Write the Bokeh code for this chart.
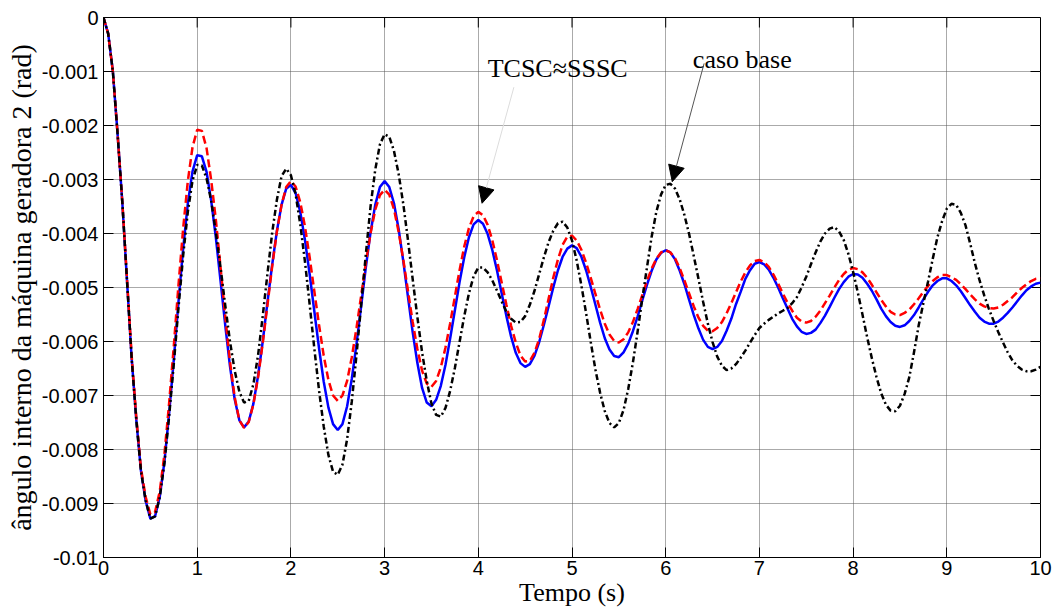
from bokeh.plotting import figure
from bokeh.models import Range1d, FixedTicker, PrintfTickFormatter, Label, Arrow, NormalHead
from bokeh.embed import file_html
from bokeh.resources import INLINE

# ---------------- data ----------------
# common time samples (s), every 0.05 s from 0 to 10
time_s = [round(0.05 * i, 2) for i in range(201)]

# TCSC (blue, solid) - rad
tcsc = [
    0.0, -0.00030, -0.00100, -0.00215, -0.00340, -0.00485, -0.00630, -0.00745, -0.00840, -0.00895,
    -0.00928, -0.00924, -0.00888, -0.00823, -0.00734, -0.00634, -0.00527, -0.00428, -0.00344, -0.00285,
    -0.00255, -0.00257, -0.00286, -0.00340, -0.00409, -0.00489, -0.00571, -0.00646, -0.00707, -0.00746,
    -0.00759, -0.00748, -0.00715, -0.00663, -0.00599, -0.00527, -0.00458, -0.00396, -0.00347, -0.00317,
    -0.00310, -0.00325, -0.00360, -0.00412, -0.00475, -0.00544, -0.00612, -0.00674, -0.00722, -0.00753,
    -0.00764, -0.00753, -0.00720, -0.00669, -0.00605, -0.00534, -0.00462, -0.00398, -0.00347, -0.00314,
    -0.00303, -0.00314, -0.00344, -0.00392, -0.00452, -0.00518, -0.00583, -0.00640, -0.00686, -0.00713,
    -0.00720, -0.00708, -0.00682, -0.00643, -0.00594, -0.00542, -0.00490, -0.00444, -0.00407, -0.00383,
    -0.00375, -0.00382, -0.00401, -0.00431, -0.00469, -0.00511, -0.00553, -0.00591, -0.00621, -0.00640,
    -0.00647, -0.00642, -0.00626, -0.00601, -0.00569, -0.00535, -0.00500, -0.00468, -0.00443, -0.00428,
    -0.00422, -0.00427, -0.00443, -0.00468, -0.00499, -0.00532, -0.00565, -0.00594, -0.00615, -0.00627,
    -0.00629, -0.00620, -0.00604, -0.00581, -0.00554, -0.00524, -0.00495, -0.00469, -0.00448, -0.00436,
    -0.00431, -0.00435, -0.00448, -0.00469, -0.00494, -0.00523, -0.00551, -0.00576, -0.00597, -0.00610,
    -0.00614, -0.00610, -0.00599, -0.00580, -0.00558, -0.00531, -0.00508, -0.00484, -0.00468, -0.00456,
    -0.00453, -0.00457, -0.00467, -0.00482, -0.00500, -0.00520, -0.00539, -0.00558, -0.00572, -0.00582,
    -0.00586, -0.00584, -0.00578, -0.00566, -0.00552, -0.00536, -0.00519, -0.00503, -0.00490, -0.00480,
    -0.00475, -0.00476, -0.00482, -0.00493, -0.00506, -0.00522, -0.00539, -0.00553, -0.00564, -0.00571,
    -0.00573, -0.00570, -0.00562, -0.00551, -0.00537, -0.00522, -0.00508, -0.00496, -0.00488, -0.00483,
    -0.00483, -0.00488, -0.00496, -0.00507, -0.00520, -0.00533, -0.00545, -0.00556, -0.00563, -0.00567,
    -0.00567, -0.00563, -0.00556, -0.00547, -0.00537, -0.00526, -0.00515, -0.00505, -0.00498, -0.00493,
    -0.00491,
]

# SSSC (red, dashed) - rad
sssc = [
    0.0, -0.00030, -0.00100, -0.00215, -0.00340, -0.00482, -0.00625, -0.00740, -0.00835, -0.00888,
    -0.00920, -0.00916, -0.00878, -0.00809, -0.00715, -0.00609, -0.00496, -0.00391, -0.00303, -0.00240,
    -0.00208, -0.00210, -0.00242, -0.00302, -0.00376, -0.00464, -0.00555, -0.00637, -0.00703, -0.00746,
    -0.00760, -0.00749, -0.00716, -0.00666, -0.00602, -0.00532, -0.00461, -0.00397, -0.00347, -0.00314,
    -0.00303, -0.00313, -0.00342, -0.00387, -0.00444, -0.00507, -0.00569, -0.00626, -0.00671, -0.00700,
    -0.00710, -0.00700, -0.00673, -0.00629, -0.00575, -0.00515, -0.00454, -0.00400, -0.00356, -0.00329,
    -0.00319, -0.00328, -0.00355, -0.00397, -0.00449, -0.00507, -0.00564, -0.00614, -0.00654, -0.00678,
    -0.00684, -0.00673, -0.00648, -0.00611, -0.00566, -0.00517, -0.00468, -0.00424, -0.00390, -0.00368,
    -0.00360, -0.00366, -0.00384, -0.00413, -0.00450, -0.00491, -0.00532, -0.00571, -0.00602, -0.00626,
    -0.00637, -0.00636, -0.00621, -0.00595, -0.00560, -0.00521, -0.00482, -0.00448, -0.00421, -0.00406,
    -0.00404, -0.00413, -0.00430, -0.00454, -0.00482, -0.00512, -0.00541, -0.00567, -0.00587, -0.00599,
    -0.00602, -0.00596, -0.00583, -0.00564, -0.00540, -0.00514, -0.00488, -0.00465, -0.00447, -0.00435,
    -0.00431, -0.00435, -0.00446, -0.00464, -0.00487, -0.00511, -0.00535, -0.00556, -0.00571, -0.00580,
    -0.00581, -0.00575, -0.00564, -0.00548, -0.00529, -0.00509, -0.00489, -0.00472, -0.00459, -0.00451,
    -0.00449, -0.00453, -0.00462, -0.00476, -0.00493, -0.00511, -0.00528, -0.00543, -0.00556, -0.00563,
    -0.00565, -0.00562, -0.00554, -0.00543, -0.00529, -0.00515, -0.00500, -0.00486, -0.00475, -0.00467,
    -0.00464, -0.00466, -0.00472, -0.00482, -0.00495, -0.00509, -0.00523, -0.00535, -0.00545, -0.00550,
    -0.00551, -0.00547, -0.00541, -0.00531, -0.00520, -0.00508, -0.00497, -0.00488, -0.00481, -0.00477,
    -0.00477, -0.00481, -0.00486, -0.00494, -0.00503, -0.00513, -0.00522, -0.00530, -0.00535, -0.00538,
    -0.00539, -0.00537, -0.00532, -0.00525, -0.00518, -0.00509, -0.00501, -0.00494, -0.00488, -0.00484,
    -0.00483,
]

# caso base (black, dash-dot) - rad
caso_base = [
    0.0, -0.00030, -0.00100, -0.00215, -0.00340, -0.00485, -0.00630, -0.00745, -0.00840, -0.00895,
    -0.00928, -0.00924, -0.00889, -0.00826, -0.00739, -0.00642, -0.00538, -0.00441, -0.00360, -0.00302,
    -0.00273, -0.00274, -0.00298, -0.00340, -0.00399, -0.00464, -0.00534, -0.00600, -0.00654, -0.00693,
    -0.00713, -0.00710, -0.00679, -0.00625, -0.00552, -0.00474, -0.00399, -0.00338, -0.00294, -0.00280,
    -0.00292, -0.00327, -0.00383, -0.00452, -0.00531, -0.00613, -0.00690, -0.00757, -0.00810, -0.00841,
    -0.00847, -0.00828, -0.00781, -0.00711, -0.00625, -0.00532, -0.00438, -0.00350, -0.00282, -0.00235,
    -0.00216, -0.00221, -0.00247, -0.00290, -0.00346, -0.00413, -0.00485, -0.00555, -0.00620, -0.00673,
    -0.00715, -0.00736, -0.00739, -0.00723, -0.00691, -0.00649, -0.00601, -0.00553, -0.00511, -0.00479,
    -0.00463, -0.00463, -0.00472, -0.00487, -0.00506, -0.00526, -0.00545, -0.00558, -0.00565, -0.00564,
    -0.00553, -0.00532, -0.00506, -0.00475, -0.00444, -0.00416, -0.00395, -0.00381, -0.00378, -0.00389,
    -0.00413, -0.00450, -0.00496, -0.00547, -0.00601, -0.00652, -0.00695, -0.00729, -0.00751, -0.00759,
    -0.00751, -0.00727, -0.00688, -0.00639, -0.00582, -0.00521, -0.00463, -0.00406, -0.00360, -0.00328,
    -0.00310, -0.00308, -0.00317, -0.00337, -0.00366, -0.00401, -0.00442, -0.00484, -0.00527, -0.00567,
    -0.00601, -0.00628, -0.00645, -0.00653, -0.00650, -0.00642, -0.00630, -0.00617, -0.00602, -0.00588,
    -0.00575, -0.00567, -0.00560, -0.00554, -0.00548, -0.00543, -0.00538, -0.00529, -0.00518, -0.00500,
    -0.00480, -0.00457, -0.00435, -0.00415, -0.00400, -0.00391, -0.00388, -0.00396, -0.00412, -0.00438,
    -0.00471, -0.00509, -0.00550, -0.00592, -0.00631, -0.00666, -0.00696, -0.00717, -0.00728, -0.00729,
    -0.00719, -0.00697, -0.00666, -0.00620, -0.00570, -0.00529, -0.00489, -0.00447, -0.00407, -0.00377,
    -0.00354, -0.00345, -0.00347, -0.00362, -0.00385, -0.00419, -0.00455, -0.00487, -0.00515, -0.00540,
    -0.00562, -0.00583, -0.00602, -0.00620, -0.00635, -0.00645, -0.00652, -0.00655, -0.00655, -0.00652,
    -0.00647,
]

x_ticks = [0, 1, 2, 3, 4, 5, 6, 7, 8, 9, 10]
y_ticks = [0, -0.001, -0.002, -0.003, -0.004, -0.005, -0.006, -0.007, -0.008, -0.009, -0.01]

x_label = "Tempo (s)"
y_label = "ângulo interno da máquina geradora 2 (rad)"
note_tcsc = "TCSC≈SSSC"
note_base = "caso base"

# ---------------- figure ----------------
SERIF = "Liberation Serif"
SANS = "Liberation Sans"

x_range = Range1d(0, 10)
y_range = Range1d(-0.01, 0)
p = figure(width=1056, height=610, output_backend="svg", toolbar_location=None,
           x_range=x_range, y_range=y_range,
           min_border_left=103, min_border_right=16, min_border_top=17, min_border_bottom=53)
p.background_fill_color = "white"
p.border_fill_color = "white"
p.outline_line_color = "black"
p.outline_line_width = 1

xticker = FixedTicker(ticks=x_ticks, minor_ticks=[])
yticker = FixedTicker(ticks=y_ticks, minor_ticks=[])

xa = p.xaxis[0]
xa.ticker = xticker
xa.axis_label = x_label
xa.axis_label_text_font = SERIF
xa.axis_label_text_font_style = "normal"
xa.axis_label_text_font_size = "26px"
xa.axis_label_text_color = "black"
xa.axis_label_standoff = 0
xa.major_label_text_font = SANS
xa.major_label_text_font_size = "20px"
xa.major_label_text_color = "black"
xa.major_label_standoff = 3
xa.major_tick_in = 10
xa.major_tick_out = 0
xa.major_tick_line_color = "black"
xa.minor_tick_line_color = None
xa.axis_line_color = "black"

ya = p.yaxis[0]
ya.ticker = yticker
ya.formatter = PrintfTickFormatter(format="%g")
ya.axis_label = y_label
ya.axis_label_text_font = SERIF
ya.axis_label_text_font_style = "normal"
ya.axis_label_text_font_size = "28px"
ya.axis_label_text_color = "black"
ya.axis_label_standoff = 2
ya.major_label_text_font = SANS
ya.major_label_text_font_size = "20px"
ya.major_label_text_color = "black"
ya.major_label_standoff = 5
ya.major_tick_in = 10
ya.major_tick_out = 0
ya.major_tick_line_color = "black"
ya.minor_tick_line_color = None
ya.axis_line_color = "black"

for g in (p.xgrid[0], p.ygrid[0]):
    g.grid_line_color = "#555555"
    g.grid_line_dash = "1 1"
    g.grid_line_width = 1
p.xgrid[0].ticker = xticker
p.ygrid[0].ticker = yticker

# inward tick marks on the top and right edges of the box
p.ray(x=x_ticks, y=[y_range.end] * len(x_ticks), length=10, length_units="screen",
      angle=-90, angle_units="deg", line_color="black", line_width=1)
p.ray(x=[x_range.end] * len(y_ticks), y=y_ticks, length=10, length_units="screen",
      angle=180, angle_units="deg", line_color="black", line_width=1)

# ---------------- curves ----------------
p.line(time_s, tcsc, line_color="#0000ff", line_width=2.5)
p.line(time_s, sssc, line_color="#ff0000", line_width=2.5, line_dash="8 4")
p.line(time_s, caso_base, line_color="black", line_width=2.5, line_dash="6 3 2 3")

# ---------------- annotations ----------------
p.add_layout(Arrow(end=NormalHead(size=16, fill_color="black", line_color="black"),
                   x_start=4.38, y_start=-0.00129, x_end=4.04, y_end=-0.00344,
                   line_color="#dcdcdc", line_width=1))
p.add_layout(Arrow(end=NormalHead(size=16, fill_color="black", line_color="black"),
                   x_start=6.41, y_start=-0.00085, x_end=6.07, y_end=-0.00304,
                   line_color="#555555", line_width=1))
p.add_layout(Label(x=4.10, y=-0.00094, text=note_tcsc, text_font=SERIF,
                   text_font_size="26px", text_baseline="alphabetic", text_color="black"))
p.add_layout(Label(x=6.29, y=-0.00077, text=note_base, text_font=SERIF,
                   text_font_size="26px", text_baseline="alphabetic", text_color="black"))

open("out.html", "w").write(file_html(p, INLINE))
